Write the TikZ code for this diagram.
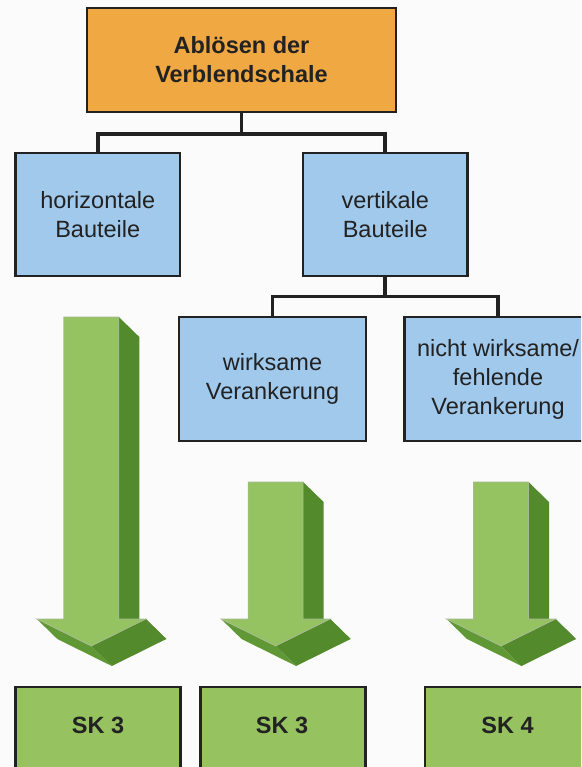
\documentclass[tikz,border=0pt]{standalone}
\usepackage{fontspec}
\setmainfont{Liberation Sans}
\definecolor{pagebg}{HTML}{FBFBFB}
\definecolor{boxorange}{HTML}{F0A843}
\definecolor{boxblue}{HTML}{A0C9EC}
\definecolor{boxgreen}{HTML}{96C360}
\definecolor{arrowlight}{HTML}{96C361}
\definecolor{arrowdark}{HTML}{538A2B}
\definecolor{arrowmid}{HTML}{5F9834}
\definecolor{arrowedge}{HTML}{A9B99A}
\definecolor{ink}{HTML}{222222}

% extruded 3D arrow: #1 = centre x, #2 = top y of the shaft
\newcommand\greenarrow[2]{%
  \begin{scope}[shift={(#1,0)}]
    \fill[arrowdark] (27.5,#2) -- (27.5,619) -- (48,639) -- (48,#2+20) -- cycle;
    \fill[arrowdark] (27.5,619) -- (54.5,619) -- (75,639) -- (48,639) -- cycle;
    \fill[arrowdark] (54.5,619) -- (0,646) -- (20.5,666) -- (75,639) -- cycle;
    \fill[arrowmid] (0,646) -- (-54.5,619) -- (-34,639) -- (20.5,666) -- cycle;
    \filldraw[fill=arrowlight, draw=arrowedge, line width=0.7pt, line join=miter]
      (-27.5,#2) -- (27.5,#2) -- (27.5,619) -- (54.5,619) -- (0,646)
      -- (-54.5,619) -- (-27.5,619) -- cycle;
  \end{scope}}

\begin{document}
\begin{tikzpicture}[x=1pt, y=-1pt,
  box/.style={draw=ink, line width=2.6pt, inner sep=0pt, align=center,
    text=ink, font=\fontsize{23.5}{29}\selectfont},
  topbox/.style={box, fill=boxorange, minimum width=309pt, minimum height=104pt,
    font=\fontsize{23.5}{29}\selectfont\bfseries},
  bluebox/.style={box, fill=boxblue, minimum width=164.5pt, minimum height=123pt},
  subbox/.style={box, fill=boxblue, minimum width=187pt, minimum height=124pt},
  skbox/.style={box, fill=boxgreen, minimum width=165pt, minimum height=123pt},
  sktext/.style={text=ink, inner sep=0pt, font=\fontsize{23.5}{29}\selectfont\bfseries},
  link/.style={draw=ink, line width=3.6pt, line join=miter}]

\useasboundingbox (0,0) rectangle (581,767);
\fill[pagebg] (0,0) rectangle (581,767);

\begin{scope}
\clip (0,0) rectangle (581,767);

% tree of boxes
\node[topbox] (root) at (241.5,60) {Ablösen der\\Verblendschale};
\node[bluebox] (hb) at (97.75,214.5) {horizontale\\Bauteile};
\node[bluebox] (vb) at (385.25,214.5) {vertikale\\Bauteile};
\node[subbox] (wa) at (272.5,379) {wirksame\\Verankerung};
\node[subbox] (nw) at (498,379) {nicht wirksame/\\fehlende\\Verankerung};

% connectors
\draw[link] (root.south) -- ++(0,21) coordinate (j1) -| (hb.north);
\draw[link] (j1) -| (vb.north);
\draw[link] (vb.south) -- ++(0,19) coordinate (j2) -| (wa.north);
\draw[link] (j2) -| (nw.north);

% arrows
\greenarrow{91.3}{317}
\greenarrow{275.6}{482}
\greenarrow{501}{482}

% result boxes
\node[skbox] (sk1) at (98.25,748.5) {};
\node[skbox] (sk2) at (282.75,748.5) {};
\node[skbox] (sk3) at (507.5,748.5) {};
\node[sktext] (t1) at (98,725) {SK 3};
\node[sktext] (t2) at (282,725) {SK 3};
\node[sktext] (t3) at (507.5,725) {SK 4};
\end{scope}
\end{tikzpicture}
\end{document}
